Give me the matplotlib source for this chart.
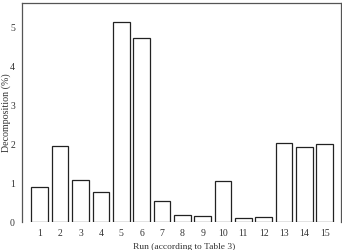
import numpy as np
import matplotlib
matplotlib.use("Agg")
from matplotlib import pyplot as plt

# Decomposition per run
runs = np.arange(1, 16)
decomposition = [0.91, 1.95, 1.07, 0.78, 5.12, 4.71, 0.53, 0.17, 0.15,
                 1.05, 0.10, 0.13, 2.04, 1.92, 1.99]
run_labels = [str(r) for r in runs]
y_ticks = [0, 1, 2, 3, 4, 5]

plt.rcParams['font.family'] = ['Liberation Serif', 'DejaVu Serif']

fig = plt.figure(figsize=(3.42, 2.5), dpi=100)
ax = fig.add_axes([0.064, 0.112, 0.933, 0.876])

ax.bar(runs, decomposition, width=0.82, facecolor='white',
       edgecolor='#222222', linewidth=0.9)

ax.set_xlim(0.12, 15.8)
ax.set_ylim(0, 5.62)
ax.set_xticks(runs)
ax.set_xticklabels(run_labels)
ax.set_yticks(y_ticks)
ax.tick_params(axis='both', length=0, labelsize=7, colors='#333333', pad=5)

ax.spines['bottom'].set_visible(False)
for s in ['left', 'right', 'top']:
    ax.spines[s].set_color('#555555')
    ax.spines[s].set_linewidth(0.9)

ax.set_ylabel('Decomposition (%)', fontsize=7.2, color='#333333')
ax.yaxis.set_label_coords(-0.033, 0.5)
ax.set_xlabel('Run (according to Table 3)', fontsize=6.8, color='#333333')
ax.xaxis.set_label_coords(0.51, -0.095)

fig.savefig('out.png', dpi=100)
